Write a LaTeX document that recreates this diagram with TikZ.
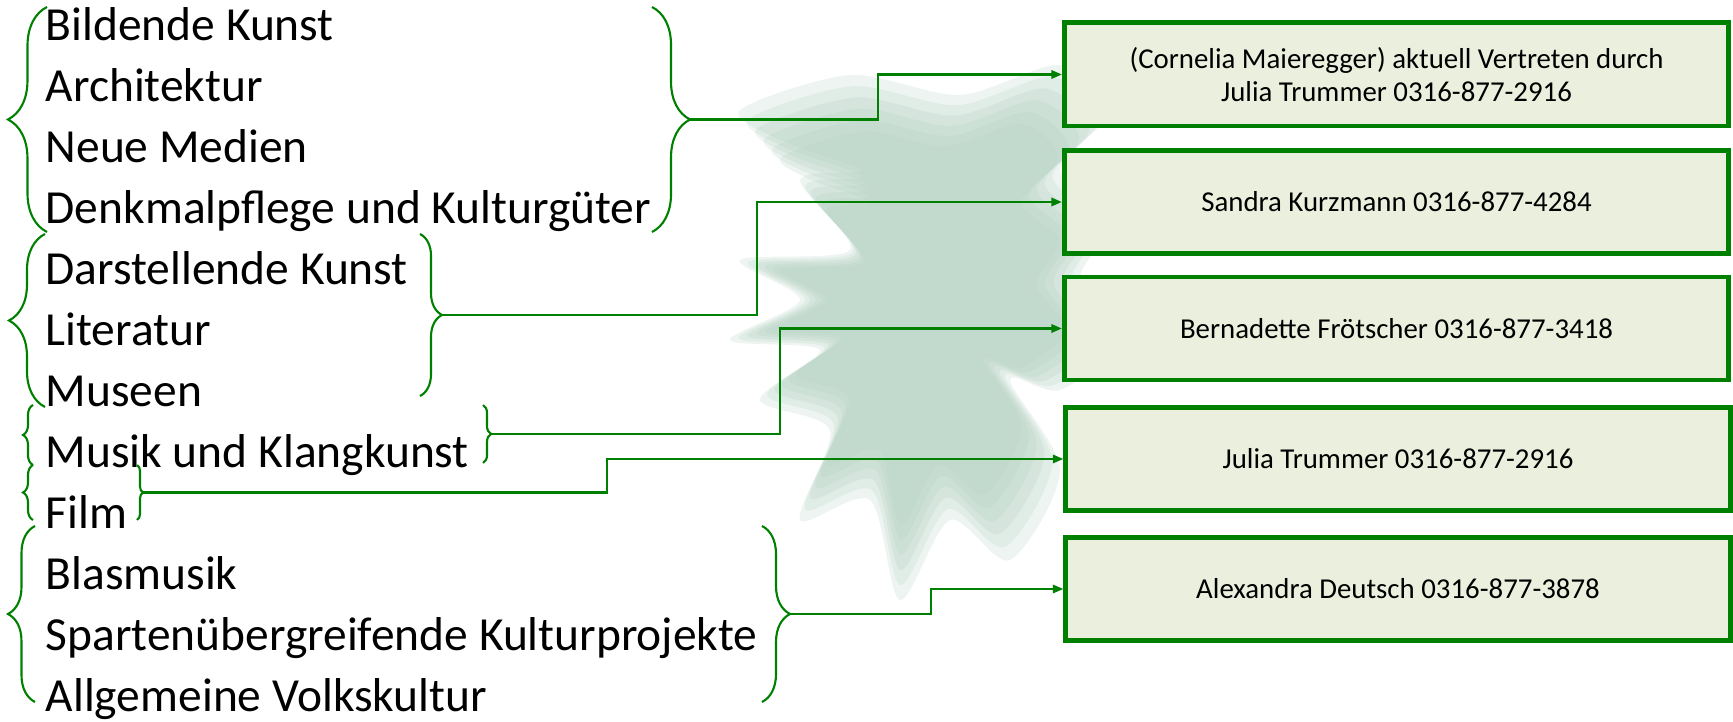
\documentclass[tikz,border=0pt]{standalone}
\usepackage{fontspec}
\setmainfont{Carlito}
\usetikzlibrary{decorations.pathreplacing, arrows.meta}
\definecolor{kgreen}{RGB}{0,128,0}
\definecolor{boxfill}{RGB}{235,240,222}
\definecolor{splash}{RGB}{176,206,190}

\begin{document}
\begin{tikzpicture}[x=0.01cm, y=-0.01cm,
  sparte/.style={anchor=base west, inner sep=0pt, font=\fontsize{13.5}{16}\selectfont},
  ansprech/.style={draw=kgreen, line width=1.4pt, fill=boxfill, minimum width=6.64cm,
    minimum height=1.03cm, align=center, font=\fontsize{8.2}{9.6}\selectfont},
  klammer/.style={draw=kgreen, line width=0.6pt, decorate, decoration={brace, amplitude=#1}},
  verbindung/.style={draw=kgreen, line width=0.6pt, -{Triangle[length=3pt, width=2.4pt]}}]
  \useasboundingbox (0,0) rectangle (1733,722);

  % background splash
  \begin{scope}[shift={(905,300)}]
    \foreach \s in {1,0.95,0.9,0.85,0.8,0.75}
      \fill[splash, opacity=0.22, scale=\s] plot[smooth cycle] coordinates {
        (-165,-190) (-55,-225) (55,-205) (155,-235) (205,-190) (155,-130)
        (205,-80) (175,-20) (215,40) (155,90) (105,80) (155,170) (105,260)
        (45,220) (-5,300) (-35,200) (-105,220) (-75,130) (-145,100) (-85,50)
        (-175,40) (-105,0) (-165,-40) (-55,-50) (-105,-120) (-45,-130)
        (-125,-160)};
  \end{scope}

  % Sparten
  \node[sparte] (bild) at (45,41) {Bildende Kunst};
  \node[sparte] (arch) at (45,102) {Architektur};
  \node[sparte] (medien) at (45,163) {Neue Medien};
  \node[sparte] (denkmal) at (45,224) {Denkmalpflege und Kulturgüter};
  \node[sparte] (darst) at (45,285) {Darstellende Kunst};
  \node[sparte] (lit) at (45,346) {Literatur};
  \node[sparte] (museen) at (45,407) {Museen};
  \node[sparte] (musik) at (45,468) {Musik und Klangkunst};
  \node[sparte] (film) at (45,529) {Film};
  \node[sparte] (blas) at (45,590) {Blasmusik};
  \node[sparte] (sparten) at (45,651) {Spartenübergreifende Kulturprojekte};
  \node[sparte] (volk) at (45,712) {Allgemeine Volkskultur};

  % Klammern
  \draw[klammer=0.39cm] (47,232) -- (47,7);
  \draw[klammer=0.38cm] (652,7) -- (652,232);
  \draw[klammer=0.36cm] (45,407) -- (45,234);
  \draw[klammer=0.22cm] (420,234) -- (420,396);
  \draw[klammer=0.1cm] (33,465) -- (33,405);
  \draw[klammer=0.08cm] (483,405) -- (483,463);
  \draw[klammer=0.1cm] (33,520) -- (33,465);
  \draw[klammer=0.06cm] (137,465) -- (137,520);
  \draw[klammer=0.27cm] (35,702) -- (35,526);
  \draw[klammer=0.28cm] (762,526) -- (762,702);
  \coordinate (k1) at (690,119.5);
  \coordinate (k2) at (442,315);
  \coordinate (k3) at (491,434);
  \coordinate (k4) at (143,492.5);
  \coordinate (k5) at (790,614);

  % Ansprechpersonen
  \node[ansprech] (b1) at (1396.5,74.5) {(Cornelia Maieregger) aktuell Vertreten durch\\Julia Trummer 0316-877-2916};
  \node[ansprech] (b2) at (1396.5,202) {Sandra Kurzmann 0316-877-4284};
  \node[ansprech] (b3) at (1396.5,328.5) {Bernadette Frötscher 0316-877-3418};
  \node[ansprech] (b4) at (1398,459) {Julia Trummer 0316-877-2916};
  \node[ansprech] (b5) at (1398,589) {Alexandra Deutsch 0316-877-3878};

  \draw[verbindung] (k1) -- (878,0 |- k1) |- (b1.west);
  \draw[verbindung] (k2) -- (757,0 |- k2) |- (b2.west);
  \draw[verbindung] (k3) -- (780,0 |- k3) |- (b3.west);
  \draw[verbindung] (k4) -- (607,0 |- k4) |- (b4.west);
  \draw[verbindung] (k5) -- (931,0 |- k5) |- (b5.west);
\end{tikzpicture}
\end{document}
